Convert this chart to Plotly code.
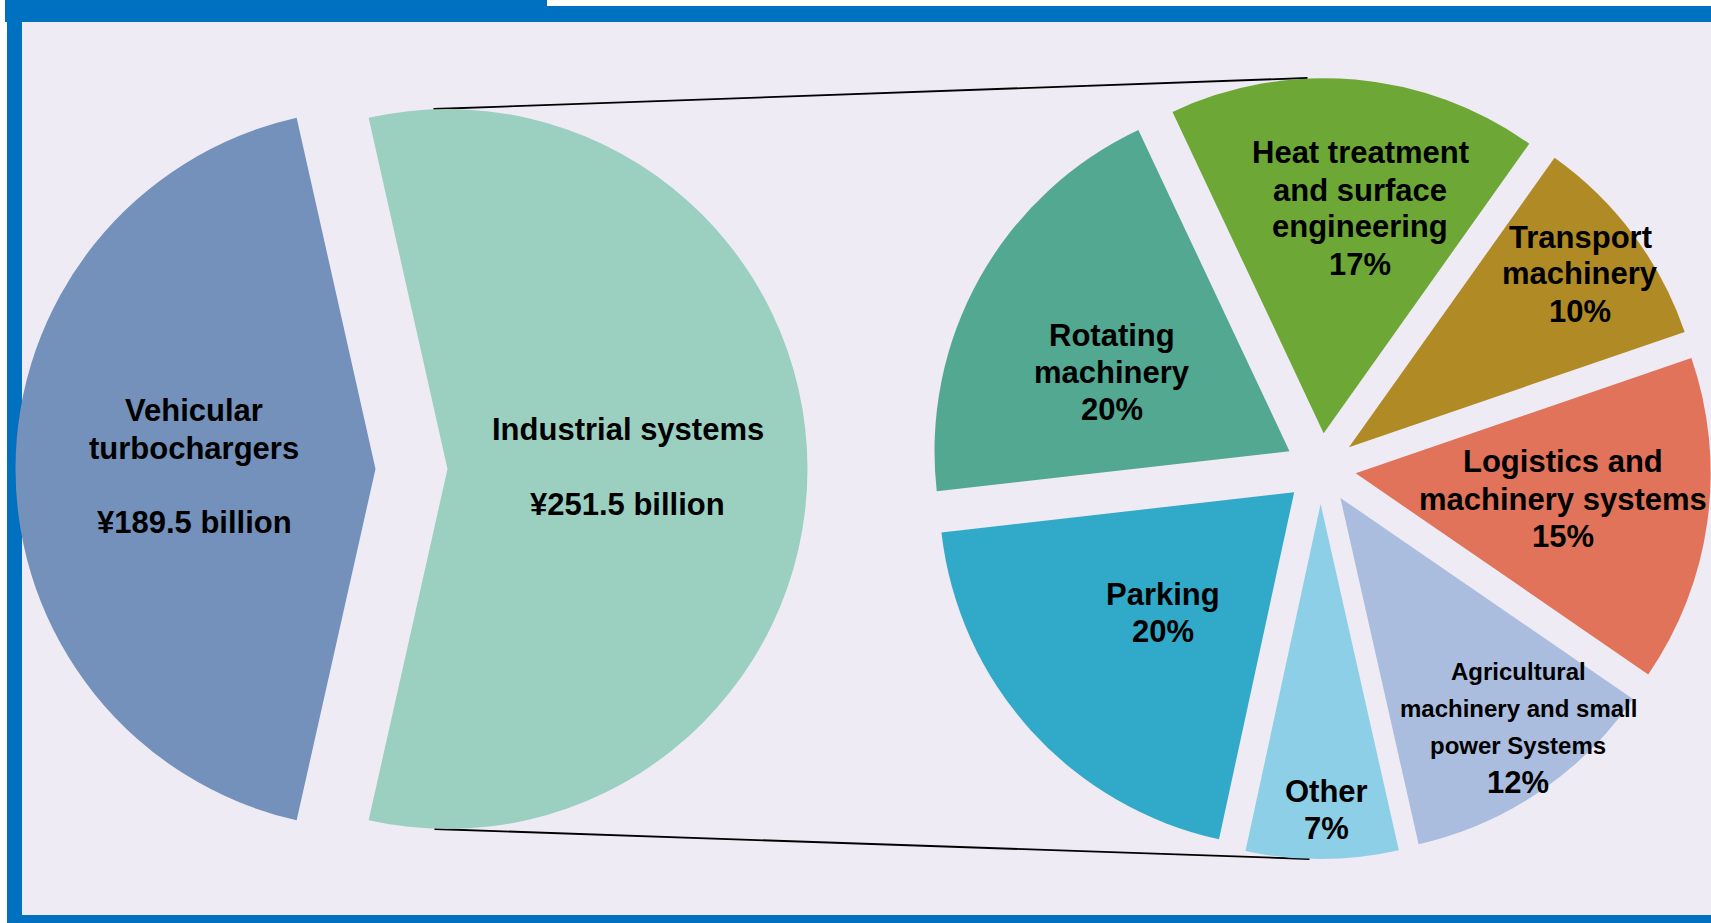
import plotly.graph_objects as go

W, H = 1711, 923
FONT = "Liberation Sans, Arial, sans-serif"

# ---- data -------------------------------------------------------------
# Group sales split (¥ billion)
segment_names = ["Vehicular turbochargers", "Industrial systems"]
segment_sales = [189.5, 251.5]
segment_lines = [["Vehicular", "turbochargers"], ["Industrial systems"]]

# Industrial systems breakdown (% of segment sales), clockwise from the top
industrial_names = [
    "Heat treatment and surface engineering",
    "Transport machinery",
    "Logistics and machinery systems",
    "Agricultural machinery and small power Systems",
    "Other",
    "Parking",
    "Rotating machinery",
]
industrial_share = [17, 10, 15, 12, 7, 20, 20]
industrial_lines = [
    ["Heat treatment", "and surface", "engineering"],
    ["Transport", "machinery"],
    ["Logistics and", "machinery systems"],
    ["Agricultural", "machinery and small", "power Systems"],
    ["Other"],
    ["Parking"],
    ["Rotating", "machinery"],
]

# ---- styling ----------------------------------------------------------
segment_colors = ["#7391BA", "#9BD0C0"]
industrial_colors = ["#6DA736", "#B08A24", "#E0735A", "#ABBDDE",
                     "#8ECFE8", "#31A9C9", "#52A890"]
BG = "#EEEBF4"
FRAME = "#0070C0"
PULL = 0.1
LINE = 37  # px between label lines

# pie geometry in pixels
L_CX, L_CY, L_R = 411.5, 469.0, 360.0
R_CX, R_CY = 1320.5, 468.5
R_R = (W - R_CX) / (1 + PULL)


def fx(x):
    return x / W


def fy(y):
    return 1 - y / H


def domain_for(cx, cy, r):
    half = r * (1 + PULL)
    return dict(x=[max(0, fx(cx - half)), min(1, fx(cx + half))],
                y=[max(0, fy(cy + half)), min(1, fy(cy - half))])


def wrap(a):
    return ((a + 180) % 360) - 180


fig = go.Figure()

# left pie: first slice centred on 9 o'clock
left_rot = wrap(270 - 360 * segment_sales[0] / sum(segment_sales) / 2)
fig.add_trace(go.Pie(
    labels=segment_names, values=segment_sales, sort=False,
    direction="clockwise", rotation=left_rot, pull=PULL,
    marker=dict(colors=segment_colors, line=dict(width=0)),
    textinfo="none", hoverinfo="label+value", showlegend=False,
    domain=domain_for(L_CX, L_CY, L_R),
))

# right pie: industrial systems breakdown
fig.add_trace(go.Pie(
    labels=industrial_names, values=industrial_share, sort=False,
    direction="clockwise", rotation=-25.2, pull=PULL,
    marker=dict(colors=industrial_colors, line=dict(width=0)),
    textinfo="none", hoverinfo="label+value", showlegend=False,
    domain=domain_for(R_CX, R_CY, R_R),
))

# ---- frame ------------------------------------------------------------
shapes = [
    dict(type="rect", x0=fx(7), x1=fx(W + 20), y0=fy(H + 20), y1=fy(6),
         fillcolor=FRAME, line=dict(width=0), layer="below"),
    dict(type="rect", x0=fx(5), x1=fx(547), y0=fy(22), y1=fy(-5),
         fillcolor=FRAME, line=dict(width=0), layer="below"),
    dict(type="rect", x0=fx(22), x1=fx(W + 20), y0=fy(915), y1=fy(22),
         fillcolor=BG, line=dict(width=0), layer="below"),
]

# connector lines from the industrial slice to the breakdown pie
l_pull = L_R * PULL
r_pull = R_R * PULL
shapes += [
    dict(type="line", x0=fx(L_CX + l_pull - 14), y0=fy(L_CY - L_R),
         x1=fx(R_CX - 13), y1=fy(R_CY - R_R - r_pull),
         line=dict(color="#000", width=1.8), layer="below"),
    dict(type="line", x0=fx(L_CX + l_pull - 13), y0=fy(L_CY + L_R),
         x1=fx(R_CX - 11), y1=fy(R_CY + R_R + r_pull),
         line=dict(color="#000", width=1.8), layer="below"),
]

# ---- labels -----------------------------------------------------------
annotations = []


def add_line(text, x, y, size):
    annotations.append(dict(
        x=fx(x), y=fy(y), xref="paper", yref="paper", text=f"<b>{text}</b>",
        showarrow=False, xanchor="center", yanchor="middle",
        font=dict(family=FONT, size=size, color="#000")))


# left pie label blocks: (centre x, first line y)
segment_label_pos = [(194, 411), (627.5, 430)]
for lines, val, (x, y) in zip(segment_lines, segment_sales, segment_label_pos):
    for i, t in enumerate(lines):
        add_line(t, x, y + i * LINE, 31)
    add_line(f"¥{val} billion", x, y + (len(lines) + 1) * LINE, 31)

# right pie label blocks
industrial_label_pos = [(1360, 153), (1580, 237), (1563, 462),
                        (1518, 671), (1326, 791), (1163, 594), (1112, 335)]
industrial_label_size = [31, 31, 31, 24, 31, 31, 31]
for lines, val, (x, y), sz in zip(industrial_lines, industrial_share,
                                  industrial_label_pos, industrial_label_size):
    for i, t in enumerate(lines):
        add_line(t, x, y + i * LINE, sz)
    add_line(f"{val}%", x, y + len(lines) * LINE, 31)

fig.update_layout(
    width=W, height=H, margin=dict(l=0, r=0, t=0, b=0),
    paper_bgcolor="#FFFFFF", plot_bgcolor="#FFFFFF",
    shapes=shapes, annotations=annotations,
)

fig.write_html("out.html")
